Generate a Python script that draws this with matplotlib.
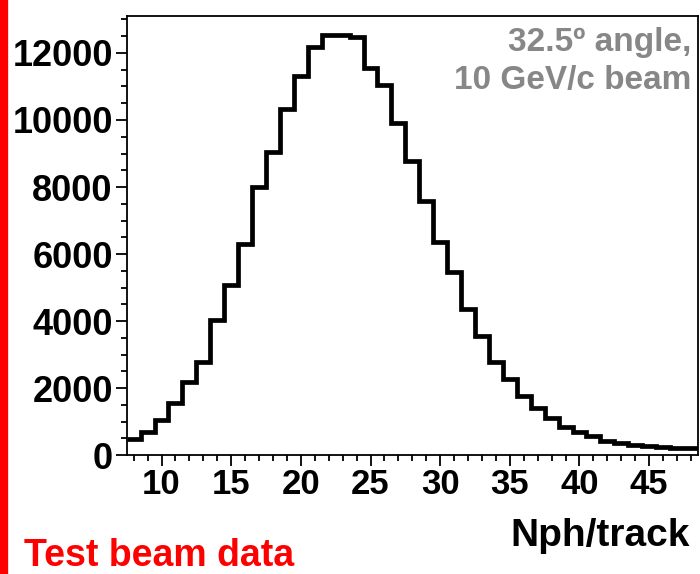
import numpy as np
import matplotlib
matplotlib.use("Agg")
import matplotlib.pyplot as plt
from matplotlib.ticker import MultipleLocator

# bin centres (width 1) and counts
nph = list(range(8, 49))
counts = [480, 700, 1040, 1550, 2170, 2790, 4030, 5090, 6300, 7990,
          9040, 10330, 11320, 12190, 12530, 12530, 12470, 11540, 11050, 9900,
          8790, 7590, 6350, 5460, 4360, 3560, 2770, 2270, 1770, 1420,
          1100, 830, 700, 560, 430, 350, 300, 280, 250, 200,
          200]
x_label = "Nph/track"
note = "32.5º angle,\n10 GeV/c beam"
tag = "Test beam data"

plt.rcParams['font.family'] = ['Liberation Sans', 'DejaVu Sans']
plt.rcParams['font.weight'] = 'bold'

fig = plt.figure(figsize=(7, 5.74), dpi=100)
ax = fig.add_axes([0.181, 0.207, 0.816, 0.765])

edges = np.arange(nph[0] - 0.5, nph[-1] + 1.0, 1.0)
ax.stairs(counts, edges, color='black', linewidth=3.4, baseline=None)

ax.set_xlim(7.5, 48.5)
ax.set_ylim(0, 13100)
ax.xaxis.set_major_locator(MultipleLocator(5))
ax.xaxis.set_minor_locator(MultipleLocator(1))
ax.yaxis.set_major_locator(MultipleLocator(2000))
ax.yaxis.set_minor_locator(MultipleLocator(500))
ax.tick_params(which='major', length=8, width=1.3, labelsize=26, pad=2)
ax.tick_params(which='minor', length=4, width=1.3)
ax.tick_params(axis='x', labelsize=25, pad=1)
for lab in ax.get_xticklabels() + ax.get_yticklabels():
    lab.set_fontweight('bold')
for s in ax.spines.values():
    s.set_linewidth(1.3)

ax.text(0.988, 0.975, note, transform=ax.transAxes, ha='right', va='top',
        color='#878787', fontsize=24, fontweight='bold', linespacing=1.3)

fig.text(0.986, 0.066, x_label, ha='right', va='center', fontsize=28, fontweight='bold')
fig.text(0.034, 0.032, tag, ha='left', va='center', color='red', fontsize=27, fontweight='bold')

# red bar along the left edge
fig.add_artist(plt.Line2D([0.0057, 0.0057], [0, 1], color='red', linewidth=6,
                          transform=fig.transFigure))

fig.savefig("out.png", dpi=100)
